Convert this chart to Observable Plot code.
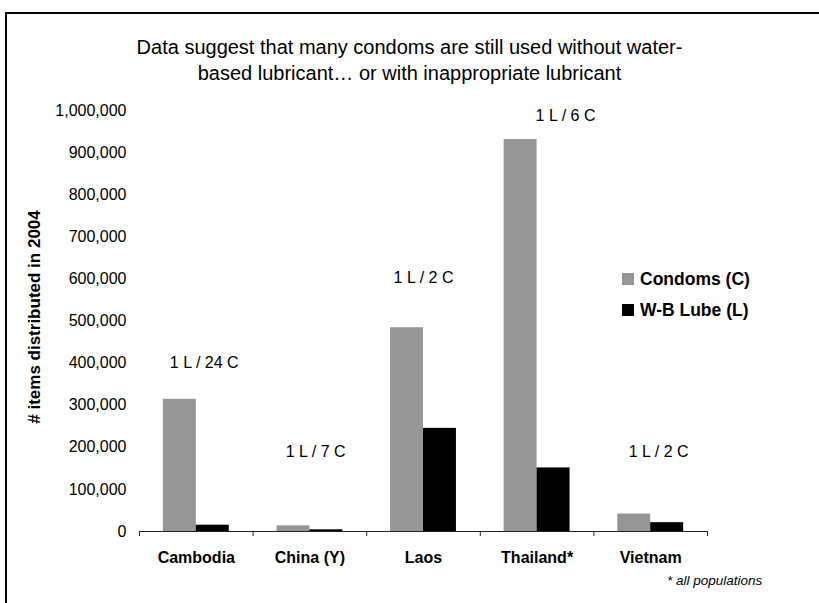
<!DOCTYPE html>
<html>
<head>
<meta charset="utf-8">
<script src="https://cdn.jsdelivr.net/npm/d3@7"></script>
<script src="https://cdn.jsdelivr.net/npm/@observablehq/plot@0.6"></script>
<style>
  html, body { margin: 0; padding: 0; background: #fff; }
  body { font-family: "Liberation Sans", Arial, sans-serif; color: #000; }
  #wrap { position: relative; width: 819px; height: 603px; overflow: hidden; }
  #chart { position: absolute; left: 0; top: 0; }
  #frame { position: absolute; left: 5px; top: 12px; width: 830px; height: 600px;
           border-top: 2px solid #000; border-left: 2px solid #000; box-sizing: border-box; }
  #title { position: absolute; left: 0; top: 34px; width: 819px; text-align: center;
           font-size: 20px; line-height: 26px; }
  #legend { position: absolute; left: 622px; top: 269px; font-weight: bold; font-size: 17.5px; }
  #legend .row { display: flex; align-items: center; height: 20px; margin-bottom: 11px; }
  #legend .sw { width: 12px; height: 12px; margin-right: 6px; }
  #foot { position: absolute; left: 667px; top: 573px; font-size: 13.5px; font-style: italic; }
</style>
</head>
<body>
<div id="wrap">
  <div id="chart"></div>
  <div id="frame"></div>
  <div id="title"></div>
  <div id="legend"></div>
  <div id="foot"></div>
</div>
<script>
const titleLines = ["Data suggest that many condoms are still used without water-",
                    "based lubricant\u2026 or with inappropriate lubricant"];
const yTitle = "# items distributed in 2004";
const footnote = "* all populations";

const countries = ["Cambodia", "China (Y)", "Laos", "Thailand*", "Vietnam"];
const seriesNames = ["Condoms (C)", "W-B Lube (L)"];
const seriesColors = ["#969696", "#000000"];
const condoms = [314000, 13500, 484000, 931000, 41500];
const lube = [15000, 4000, 245000, 151000, 21000];

const ratioLabels = ["1 L / 24 C", "1 L / 7 C", "1 L / 2 C", "1 L / 6 C", "1 L / 2 C"];
const ratioX = [0.57, 1.55, 2.5, 3.75, 4.57];
const ratioY = [400000, 190000, 603000, 988000, 190000];

const yTicks = d3.range(0, 1000001, 100000);
const xTicks = d3.range(0, countries.length + 1);

// build table
const BW = 0.29;
const rows = countries.flatMap((c, i) => [
  {i, country: c, series: seriesNames[0], value: condoms[i], x1: i + 0.5 - BW, x2: i + 0.5},
  {i, country: c, series: seriesNames[1], value: lube[i], x1: i + 0.5, x2: i + 0.5 + BW}
]);
const ratios = ratioLabels.map((t, i) => ({text: t, x: ratioX[i], y: ratioY[i]}));

const chart = Plot.plot({
  width: 819,
  height: 603,
  marginLeft: 139,
  marginRight: 112,
  marginTop: 110,
  marginBottom: 72,
  style: {background: "transparent", fontFamily: "'Liberation Sans', Arial, sans-serif", fontSize: "16px", color: "#000"},
  x: {type: "linear", domain: [0, countries.length], axis: null},
  y: {domain: [0, 1000000], axis: null},
  color: {domain: seriesNames, range: seriesColors},
  marks: [
    Plot.rectY(rows, {x1: "x1", x2: "x2", y1: 0, y2: "value", fill: "series", inset: 0}),
    Plot.ruleY([0], {stroke: "#222", strokeWidth: 1}),
    Plot.axisX(xTicks, {tickSize: 5, tickFormat: () => "", label: null, stroke: "#222"}),
    Plot.axisY(yTicks, {tickSize: 0, tickPadding: 13, tickFormat: d3.format(","), label: null, fontSize: 16, fill: "#000"}),
    Plot.text(countries, {x: (d, i) => i + 0.5, frameAnchor: "bottom", dy: 31, fontWeight: "bold", fontSize: 16, fill: "#000"}),
    Plot.text(ratios, {x: "x", y: "y", text: "text", fontSize: 16, fill: "#000"}),
    Plot.text([yTitle], {frameAnchor: "left", textAnchor: "middle", dx: -105, dy: -4, rotate: -90, fontWeight: "bold", fontSize: 17, fill: "#000"})
  ]
});
document.getElementById("chart").appendChild(chart);

document.getElementById("title").innerHTML = titleLines.join("<br>");
document.getElementById("foot").textContent = footnote;
const legend = document.getElementById("legend");
seriesNames.forEach((s, k) => {
  const row = document.createElement("div");
  row.className = "row";
  const sw = document.createElement("span");
  sw.className = "sw";
  sw.style.background = seriesColors[k];
  const lab = document.createElement("span");
  lab.textContent = s;
  row.appendChild(sw);
  row.appendChild(lab);
  legend.appendChild(row);
});
</script>
</body>
</html>
